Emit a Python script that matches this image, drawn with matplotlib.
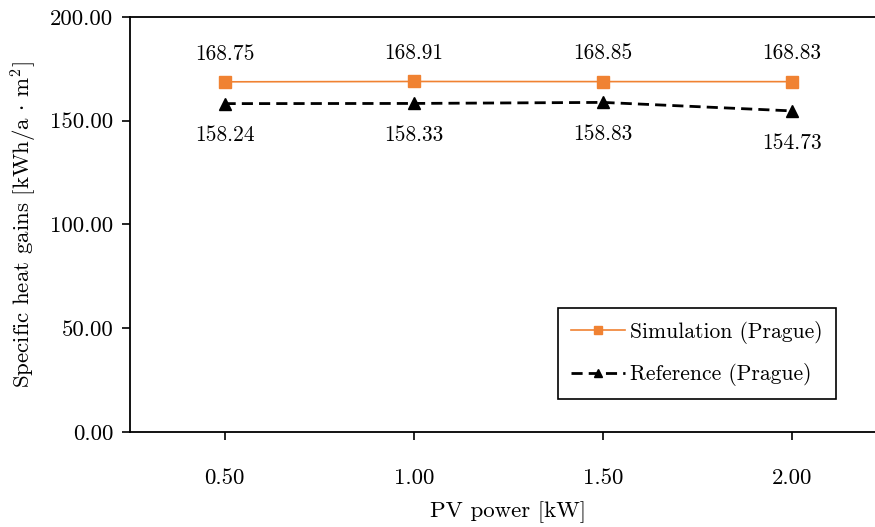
import matplotlib
matplotlib.use('Agg')
from matplotlib import pyplot as plt
from matplotlib.ticker import FormatStrFormatter

plt.rcParams['font.family'] = ['cmr10', 'DejaVu Serif']
plt.rcParams['mathtext.fontset'] = 'cm'
plt.rcParams['axes.formatter.use_mathtext'] = True

# data
pv_power = [0.5, 1.0, 1.5, 2.0]
simulation = [168.75, 168.91, 168.85, 168.83]
reference = [158.24, 158.33, 158.83, 154.73]

fig = plt.figure(figsize=(8.75, 5.27), dpi=100)
ax = fig.add_axes([0.1486, 0.1803, 0.8647, 0.7875])

ax.plot(pv_power, simulation, color='#F08232', lw=1.2, marker='s', ms=8,
        label='Simulation (Prague)')
ax.plot(pv_power, reference, color='black', lw=2, ls=(0, (4, 2.2)), marker='^', ms=8,
        label='Reference (Prague)')

# value labels
for x, v in zip(pv_power, simulation):
    ax.annotate('%.2f' % v, (x, v), xytext=(0, 28), textcoords='offset pixels',
                ha='center', va='center', fontsize=15.5)
for x, v in zip(pv_power, reference):
    ax.annotate('%.2f' % v, (x, v), xytext=(0, -32), textcoords='offset pixels',
                ha='center', va='center', fontsize=15.5)

ax.set_xlim(0.25, 2.25)
ax.set_ylim(0, 200)
ax.set_xticks(pv_power)
ax.set_yticks([0, 50, 100, 150, 200])
ax.xaxis.set_major_formatter(FormatStrFormatter('%.2f'))
ax.yaxis.set_major_formatter(FormatStrFormatter('%.2f'))
ax.tick_params(direction='out', length=6, width=1.2, labelsize=16.5)
ax.tick_params(axis='x', pad=20)
ax.tick_params(axis='y', pad=6)

for s in ax.spines.values():
    s.set_linewidth(1.3)

ax.set_xlabel('PV power [kW]', fontsize=16.5, labelpad=10)
ax.set_ylabel(r'Specific heat gains [kWh/a$\,\cdot\,$m$^2$]', fontsize=16.5, labelpad=8)

leg = ax.legend(loc='lower right', bbox_to_anchor=(836 / 875, 1 - 399 / 527),
                bbox_transform=fig.transFigure, fontsize=15.5, fancybox=False,
                edgecolor='black', framealpha=1, handlelength=2.5, handletextpad=0.25,
                borderpad=0.6, borderaxespad=0, labelspacing=0.9, markerscale=0.8)
leg.get_frame().set_linewidth(1.2)

fig.savefig('out.png', dpi=100)
